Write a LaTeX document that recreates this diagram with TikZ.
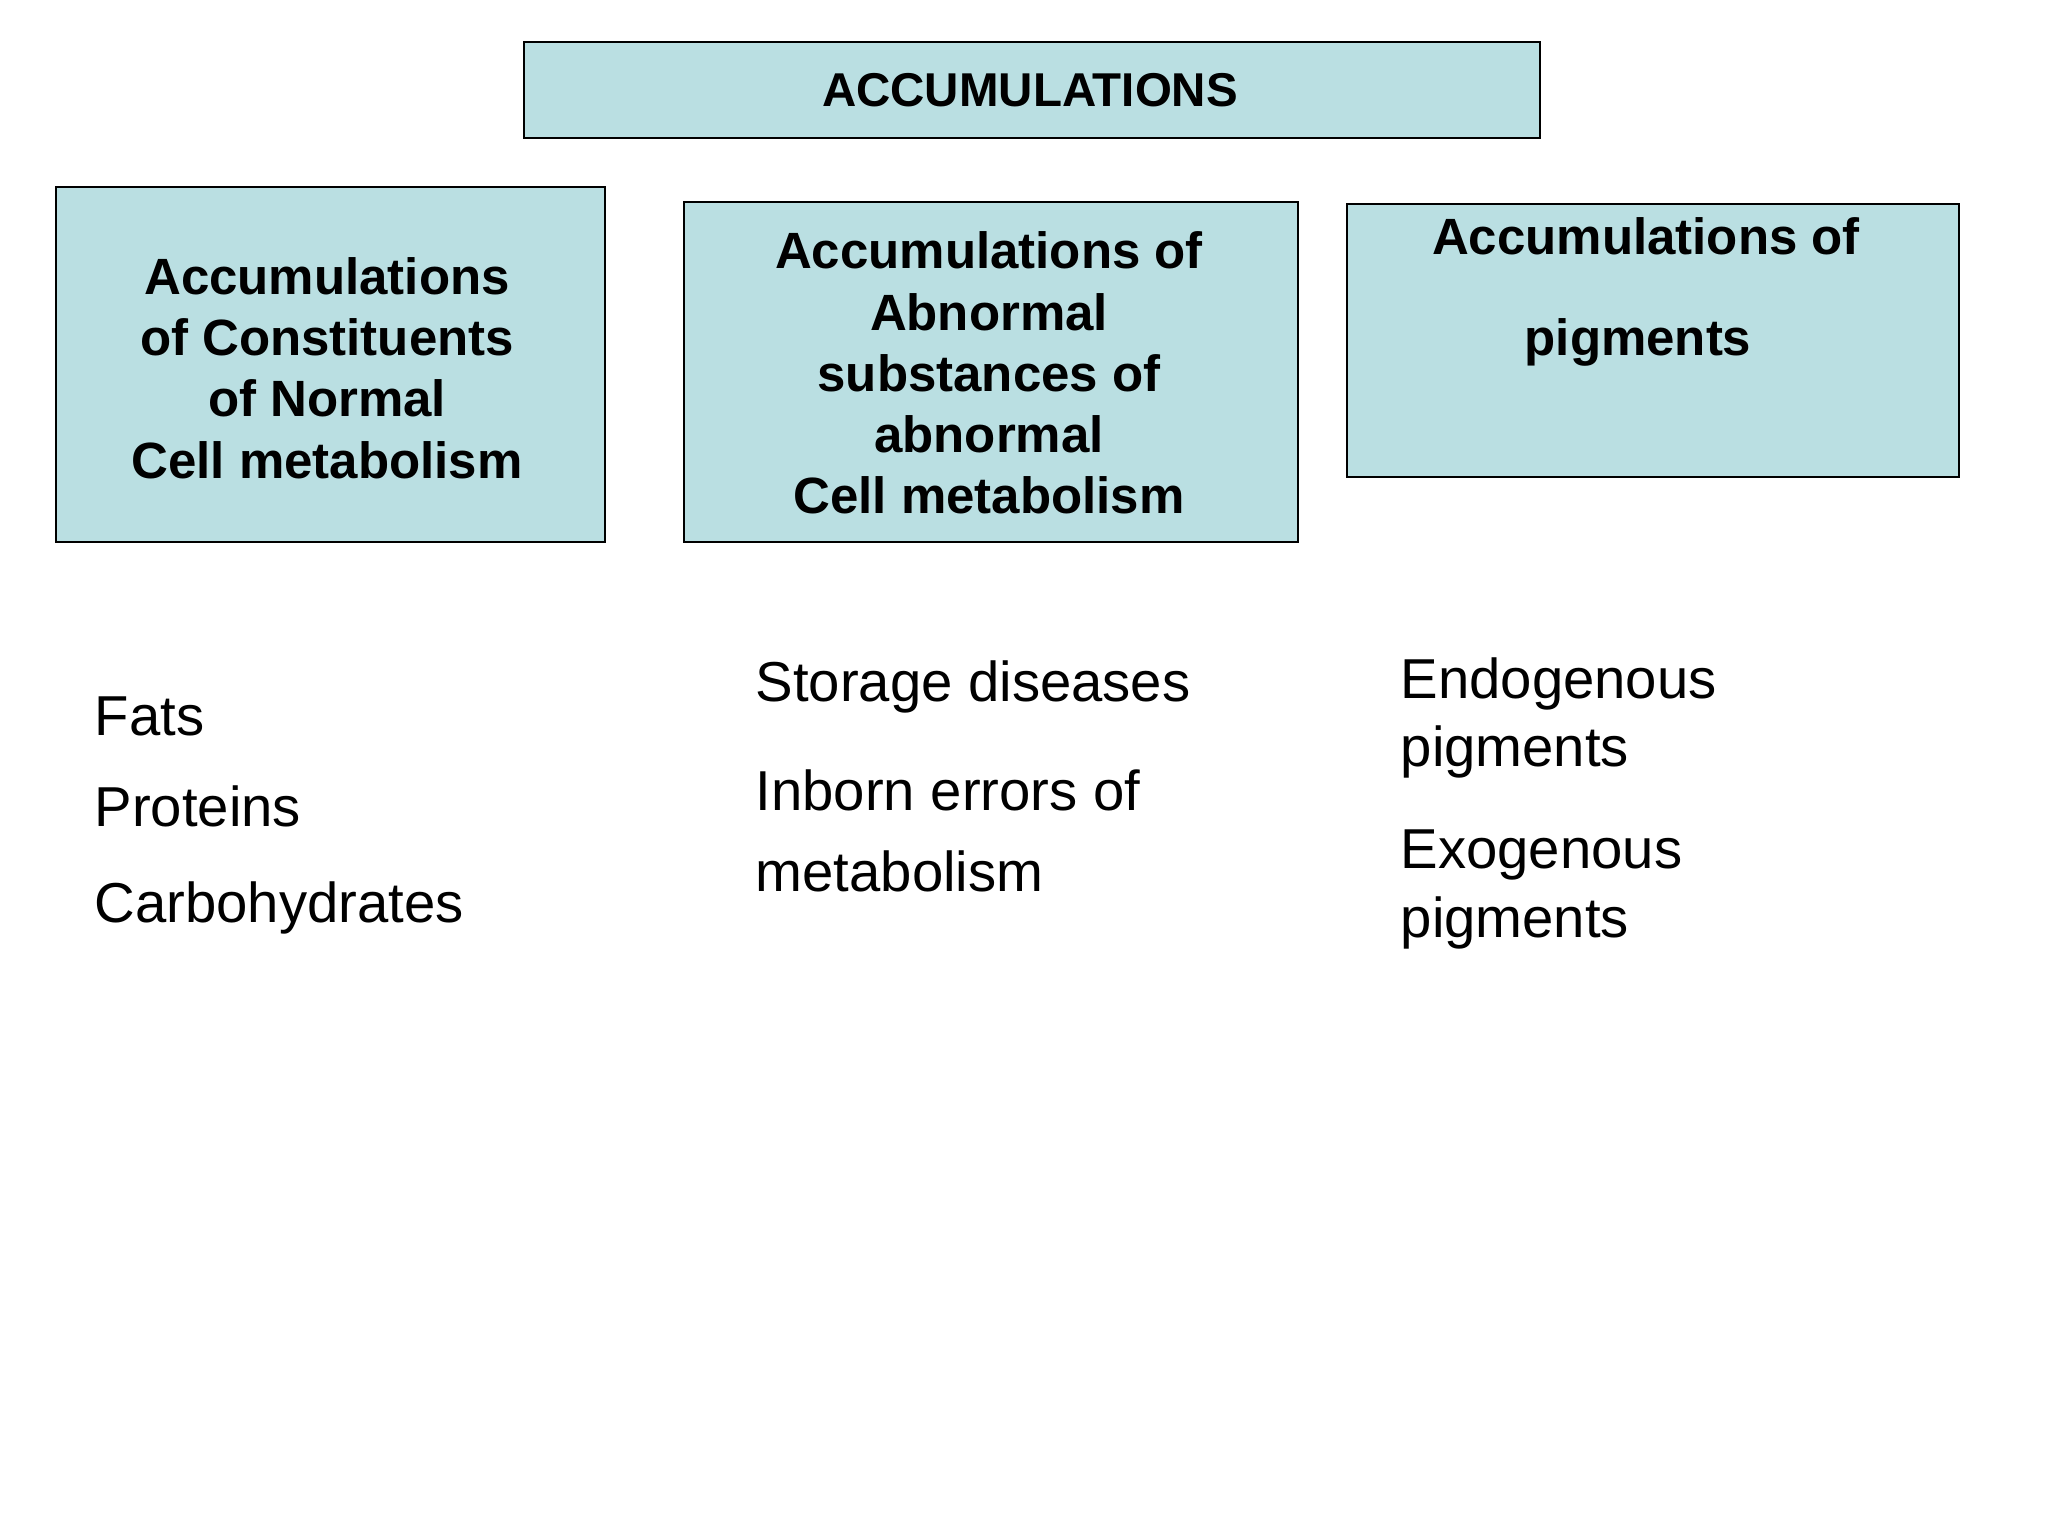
\documentclass[tikz,border=0pt]{standalone}
\usepackage{fontspec}
\setmainfont{Liberation Sans}
\definecolor{boxfill}{HTML}{BADFE2}
\begin{document}
\begin{tikzpicture}[x=0.01cm,y=-0.01cm,
  box/.style={draw=black,fill=boxfill,line width=0.8pt},
  btext/.style={font=\fontsize{14.5}{17.4}\selectfont\bfseries,align=center,inner sep=0},
  ptext/.style={font=\fontsize{16}{19}\selectfont,anchor=west,inner sep=0}]
\useasboundingbox (0,0) rectangle (2048,1536);
\fill[white] (0,0) rectangle (2048,1536);
\draw[box] (524,42) rectangle (1540,138);
\node[btext,font=\fontsize{13.5}{16}\selectfont\bfseries] (title) at (1030,90) {ACCUMULATIONS};
\draw[box] (56,187) rectangle (605,542);
\node[btext] (b1) at (327,368) {Accumulations\\of Constituents\\of Normal\\Cell metabolism};
\draw[box] (684,202) rectangle (1298,542);
\node[btext] (b2) at (989,373) {Accumulations of\\Abnormal\\substances of\\abnormal\\Cell metabolism};
\draw[box] (1347,204) rectangle (1959,477);
\node[btext] (b3a) at (1646,236) {Accumulations of};
\node[btext] (b3b) at (1638,342) {pigments};
\node[ptext] (f) at (94,716) {Fats};
\node[ptext] (p) at (94,806) {Proteins};
\node[ptext] (c) at (94,908) {Carbohydrates};
\node[ptext] (s) at (755,687) {Storage diseases};
\node[ptext] (i) at (755,790) {Inborn errors of};
\node[ptext] (m) at (755,871) {metabolism};
\node[ptext] (e1) at (1400,684) {Endogenous};
\node[ptext] (e2) at (1400,752) {pigments};
\node[ptext] (x1) at (1400,855) {Exogenous};
\node[ptext] (x2) at (1400,923) {pigments};
\end{tikzpicture}
\end{document}
